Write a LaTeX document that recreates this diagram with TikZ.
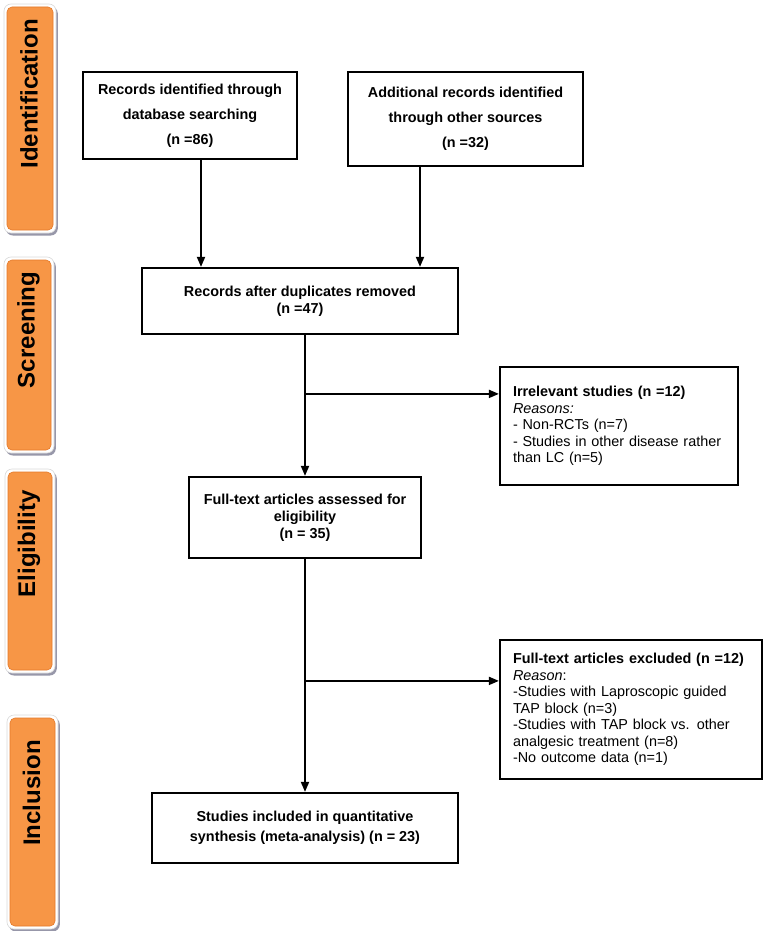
\documentclass[tikz,border=0pt]{standalone}
\usepackage{fontspec}
\setmainfont{Liberation Sans}
\usetikzlibrary{arrows.meta,shadows}
\definecolor{taborange}{RGB}{247,150,70}
\definecolor{tabedge}{RGB}{228,120,40}
\definecolor{tabshadow}{RGB}{140,140,160}
\tikzset{
  tabframe/.style={rectangle, rounded corners=7pt, fill=white, draw=black!15, line width=0.6pt, inner sep=0pt,
    drop shadow={shadow xshift=1.8pt, shadow yshift=-2.5pt, fill=tabshadow, opacity=0.9}},
  tabfill/.style={rectangle, rounded corners=5pt, fill=taborange, draw=tabedge, line width=0.6pt, inner sep=0pt},
  tabtext/.style={rotate=90, font=\bfseries\fontsize{24}{28}\selectfont, inner sep=0pt},
  mainbox/.style={rectangle, draw, line width=2.2pt, inner sep=0pt, align=center,
    font=\bfseries\fontsize{14.4}{17}\selectfont},
  notebox/.style={rectangle, draw, line width=2.2pt, inner xsep=13pt, inner ysep=0pt, align=left,
    font=\fontsize{14.4}{16.5}\selectfont},
  arr/.style={line width=1.8pt, -{Triangle[length=10pt, width=8pt]}},
  link/.style={line width=1.8pt}
}
\begin{document}
\begin{tikzpicture}[x=1pt, y=-1pt]
\useasboundingbox (0,0) rectangle (765,931);
% phase tabs
\node[tabframe, minimum width=52pt, minimum height=229pt] (f1) at (30,118.5) {};
\node[tabfill, minimum width=46pt, minimum height=223pt] (t1) at (30,118.5) {};
\node[tabtext] (l1) at (29,94) {Identification};
\node[tabframe, minimum width=50pt, minimum height=196pt] (f2) at (29,355) {};
\node[tabfill, minimum width=44pt, minimum height=190pt] (t2) at (29,355) {};
\node[tabtext] (l2) at (28.5,330) {Screening};
\node[tabframe, minimum width=50pt, minimum height=204pt] (f3) at (30,571) {};
\node[tabfill, minimum width=44pt, minimum height=198pt] (t3) at (30,571) {};
\node[tabtext] (l3) at (29,544) {Eligibility};
\node[tabframe, minimum width=51pt, minimum height=214pt] (f4) at (32.5,822) {};
\node[tabfill, minimum width=45pt, minimum height=208pt] (t4) at (32.5,822) {};
\node[tabtext] (l4) at (31.5,793) {Inclusion};
% boxes
\node[mainbox, minimum width=214pt, minimum height=87pt, font=\bfseries\fontsize{14.4}{25}\selectfont] (b1) at (190,115.5)
  {Records identified through\\database searching\\(n =86)};
\node[mainbox, minimum width=235pt, minimum height=94pt, font=\bfseries\fontsize{14.4}{25}\selectfont] (b2) at (465.5,119)
  {Additional records identified\\through other sources\\(n =32)};
\node[mainbox, minimum width=316pt, minimum height=66pt] (b3) at (300,301)
  {Records after duplicates removed\\(n =47)};
\node[mainbox, minimum width=232pt, minimum height=81pt] (b4) at (305,517.5)
  {Full-text articles assessed for\\eligibility\\(n = 35)};
\node[mainbox, minimum width=306pt, minimum height=70pt, font=\bfseries\fontsize{14.4}{20}\selectfont] (b5) at (305,828)
  {Studies included in quantitative\\synthesis (meta-analysis) (n = 23)};
\node[notebox, text width=212pt, minimum height=118pt] (irr) at (619,426)
  {\textbf{Irrelevant studies (n =12)}\\\textit{Reasons:}\\- Non-RCTs (n=7)\\- Studies in other disease rather\\than LC (n=5)};
\node[notebox, text width=236pt, minimum height=139pt] (exc) at (631,709.5)
  {\textbf{Full-text articles excluded (n =12)}\\\textit{Reason}:\\-Studies with Laproscopic guided\\TAP block (n=3)\\-Studies with TAP block vs. other\\analgesic treatment (n=8)\\-No outcome data (n=1)};
% connectors
\draw[arr] ([xshift=11pt]b1.south) -- ([xshift=11pt]b1.south |- b3.north);
\draw[arr] ([xshift=-45.5pt]b2.south) -- ([xshift=-45.5pt]b2.south |- b3.north);
\draw[arr] (b3.south -| b4.north) -- (b4.north);
\draw[arr] (b4.south) -- (b5.north);
\coordinate (irrin) at ([yshift=-28pt]irr.north west);
\coordinate (excin) at ([yshift=-42pt]exc.north west);
\draw[arr] (b4.north |- irrin) -- (irrin);
\draw[arr] (b5.north |- excin) -- (excin);
\end{tikzpicture}
\end{document}
